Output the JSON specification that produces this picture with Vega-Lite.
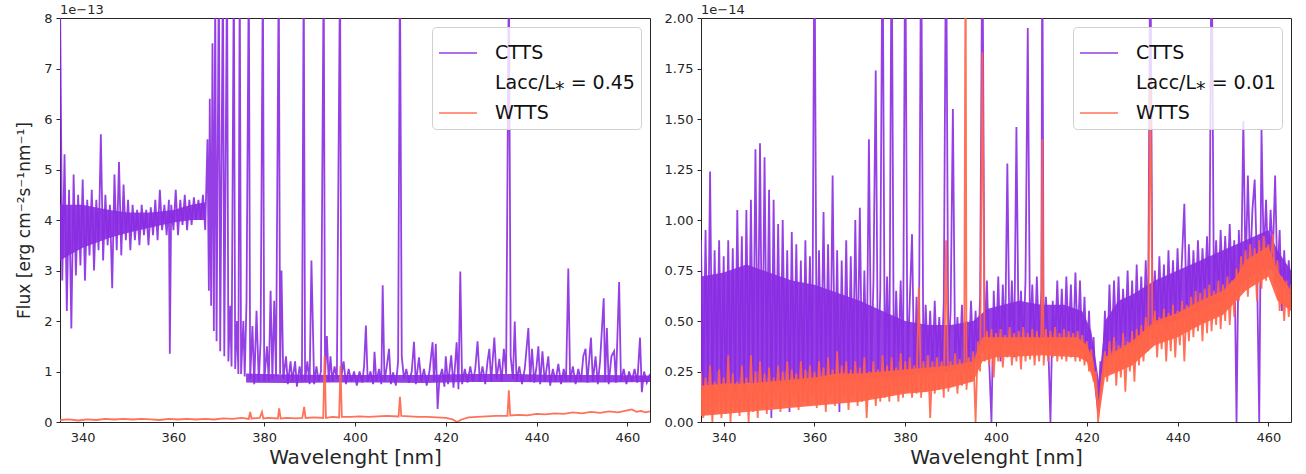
{
"$schema": "https://vega.github.io/schema/vega-lite/v6.json",
"padding": {"left": 15, "top": 3, "right": 10, "bottom": 2},
"background": "white",
"config": {
 "font": "DejaVu Sans",
 "view": {"stroke": "#262626", "strokeWidth": 1},
 "axis": {"domain": false, "grid": false, "tickColor": "#262626", "tickSize": 4, "labelFont": "DejaVu Sans", "labelFontSize": 13, "labelColor": "#262626", "labelPadding": 4, "labelFlush": false, "titleFont": "DejaVu Sans", "titleFontWeight": "normal", "titleColor": "#262626"},
 "title": {"font": "DejaVu Sans", "fontSize": 13, "fontWeight": "normal", "color": "#262626", "anchor": "start", "offset": -5, "frame": "group"},
 "legend": {"orient": "top-right", "offset": 9, "fillColor": "rgba(255,255,255,0.8)", "strokeColor": "#d0d0d0", "cornerRadius": 4, "padding": 6, "symbolType": "stroke", "symbolSize": 1444, "symbolStrokeWidth": 1.5, "labelFont": "DejaVu Sans", "labelFontSize": 19, "labelColor": "#111111", "rowPadding": 0, "labelOffset": 17, "titleFontSize": 0}
},
"datasets": {
"lca": [{"w":335,"lo":3.2,"hi":4.3},{"w":337,"lo":3.3,"hi":4.3},{"w":340,"lo":3.45,"hi":4.3},{"w":343,"lo":3.55,"hi":4.25},{"w":346,"lo":3.65,"hi":4.2},{"w":350,"lo":3.75,"hi":4.15},{"w":355,"lo":3.85,"hi":4.15},{"w":360,"lo":3.95,"hi":4.2},{"w":364,"lo":4.0,"hi":4.3},{"w":367,"lo":4.0,"hi":4.35}],
"lcb": [{"w":376,"lo":0.78,"hi":0.96},{"w":385,"lo":0.77,"hi":0.94},{"w":395,"lo":0.78,"hi":0.93},{"w":405,"lo":0.78,"hi":0.93},{"w":415,"lo":0.77,"hi":0.93},{"w":425,"lo":0.79,"hi":0.95},{"w":435,"lo":0.79,"hi":0.95},{"w":445,"lo":0.78,"hi":0.93},{"w":455,"lo":0.78,"hi":0.93},{"w":465,"lo":0.79,"hi":0.92}],
"rca": [{"w":335,"lo":0.18,"hi":0.72},{"w":340,"lo":0.18,"hi":0.74},{"w":345,"lo":0.19,"hi":0.78},{"w":350,"lo":0.19,"hi":0.74},{"w":355,"lo":0.2,"hi":0.7},{"w":360,"lo":0.2,"hi":0.68},{"w":365,"lo":0.21,"hi":0.64},{"w":370,"lo":0.21,"hi":0.6},{"w":375,"lo":0.22,"hi":0.55},{"w":380,"lo":0.23,"hi":0.5},{"w":385,"lo":0.24,"hi":0.48},{"w":390,"lo":0.25,"hi":0.48},{"w":395,"lo":0.28,"hi":0.5},{"w":398,"lo":0.38,"hi":0.56},{"w":405,"lo":0.38,"hi":0.6},{"w":410,"lo":0.38,"hi":0.58},{"w":415,"lo":0.38,"hi":0.58},{"w":419,"lo":0.36,"hi":0.55},{"w":421,"lo":0.28,"hi":0.45},{"w":422.7,"lo":0.08,"hi":0.2},{"w":424,"lo":0.3,"hi":0.5},{"w":427,"lo":0.35,"hi":0.6},{"w":430,"lo":0.38,"hi":0.63},{"w":435,"lo":0.48,"hi":0.7},{"w":440,"lo":0.5,"hi":0.75},{"w":445,"lo":0.56,"hi":0.8},{"w":450,"lo":0.6,"hi":0.85},{"w":455,"lo":0.7,"hi":0.9},{"w":460,"lo":0.78,"hi":0.95},{"w":462,"lo":0.7,"hi":0.85},{"w":465,"lo":0.62,"hi":0.75}],
"rwa": [{"w":335,"lo":0.03,"hi":0.18},{"w":340,"lo":0.04,"hi":0.19},{"w":345,"lo":0.05,"hi":0.19},{"w":350,"lo":0.06,"hi":0.2},{"w":355,"lo":0.07,"hi":0.21},{"w":360,"lo":0.08,"hi":0.22},{"w":365,"lo":0.09,"hi":0.24},{"w":370,"lo":0.1,"hi":0.24},{"w":375,"lo":0.12,"hi":0.25},{"w":380,"lo":0.14,"hi":0.26},{"w":385,"lo":0.15,"hi":0.27},{"w":390,"lo":0.17,"hi":0.28},{"w":395,"lo":0.2,"hi":0.3},{"w":397,"lo":0.3,"hi":0.42},{"w":400,"lo":0.32,"hi":0.42},{"w":410,"lo":0.33,"hi":0.42},{"w":418,"lo":0.32,"hi":0.42},{"w":420,"lo":0.3,"hi":0.38},{"w":421.5,"lo":0.2,"hi":0.3},{"w":422.7,"lo":0.02,"hi":0.1},{"w":424,"lo":0.22,"hi":0.32},{"w":427,"lo":0.25,"hi":0.36},{"w":430,"lo":0.28,"hi":0.4},{"w":435,"lo":0.38,"hi":0.5},{"w":440,"lo":0.42,"hi":0.54},{"w":445,"lo":0.48,"hi":0.6},{"w":450,"lo":0.53,"hi":0.65},{"w":453,"lo":0.6,"hi":0.72},{"w":455,"lo":0.65,"hi":0.8},{"w":460,"lo":0.72,"hi":0.87},{"w":462,"lo":0.6,"hi":0.75},{"w":465,"lo":0.55,"hi":0.65}],
"lc": [
{"w":335,"f":8.5},{"w":335.5,"f":2.8},{"w":336,"f":5.3},{"w":336.5,"f":2.2},{"w":337,"f":4.6},{"w":337.5,"f":1.85},{"w":338,"f":4.9},{"w":338.5,"f":2.9},{"w":339,"f":4.5},{"w":339.5,"f":3.1},{"w":340,"f":4.8},{"w":340.5,"f":2.8},{"w":341,"f":4.4},{"w":341.5,"f":3.3},{"w":342,"f":4.6},{"w":342.5,"f":3.0},{"w":343,"f":4.4},{"w":343.5,"f":3.4},{"w":344,"f":5.7},{"w":344.5,"f":3.2},{"w":345,"f":4.5},{"w":345.5,"f":3.5},{"w":346,"f":4.3},{"w":346.5,"f":2.65},{"w":347,"f":4.9},{"w":347.5,"f":3.4},{"w":348,"f":5.15},{"w":348.5,"f":3.3},{"w":349,"f":4.7},{"w":349.5,"f":3.6},{"w":350,"f":4.4},{"w":350.5,"f":3.4},{"w":351,"f":4.3},{"w":351.5,"f":3.6},{"w":352,"f":4.2},{"w":352.5,"f":3.5},{"w":353,"f":4.3},{"w":353.5,"f":3.7},{"w":354,"f":4.2},{"w":354.5,"f":3.5},{"w":355,"f":4.25},{"w":355.5,"f":3.7},{"w":356,"f":4.4},{"w":356.5,"f":3.6},{"w":357,"f":4.6},{"w":357.5,"f":3.8},{"w":358,"f":4.3},{"w":358.5,"f":3.7},{"w":359,"f":4.4},{"w":359.2,"f":1.35},{"w":359.5,"f":4.3},{"w":360,"f":3.8},{"w":360.5,"f":4.6},{"w":361,"f":3.7},{"w":361.5,"f":4.4},{"w":362,"f":3.9},{"w":362.5,"f":4.5},{"w":363,"f":3.8},{"w":363.5,"f":4.4},{"w":364,"f":3.9},{"w":364.5,"f":4.45},{"w":365,"f":4.0},{"w":365.5,"f":4.4},{"w":366,"f":4.0},{"w":366.5,"f":4.5},{"w":367,"f":3.8},{"w":367.5,"f":5.6},{"w":367.8,"f":2.6},{"w":368,"f":6.4},{"w":368.3,"f":2.3},{"w":368.6,"f":7.5},{"w":368.9,"f":1.8},{"w":369.2,"f":8.5},{"w":369.5,"f":1.6},{"w":370,"f":9},{"w":370.3,"f":1.4},{"w":370.9,"f":9},{"w":371.2,"f":1.3},{"w":371.8,"f":9},{"w":372.1,"f":1.2},{"w":372.5,"f":2.3},{"w":372.8,"f":1.1},{"w":373.3,"f":9},{"w":373.6,"f":1.05},{"w":374,"f":2.0},{"w":374.3,"f":0.95},{"w":374.6,"f":9},{"w":374.9,"f":0.95},{"w":375.4,"f":2.0},{"w":375.7,"f":0.9},{"w":376.1,"f":2.4},{"w":376.6,"f":9},{"w":376.9,"f":0.85},{"w":377.4,"f":1.9},{"w":377.8,"f":0.75},{"w":378.3,"f":2.2},{"w":378.8,"f":0.8},{"w":379.2,"f":1.6},{"w":379.7,"f":9},{"w":380,"f":0.8},{"w":380.6,"f":1.5},{"w":381,"f":0.8},{"w":381.4,"f":2.6},{"w":381.8,"f":0.85},{"w":382.2,"f":2.4},{"w":382.6,"f":0.9},{"w":383.2,"f":9},{"w":383.5,"f":0.95},{"w":383.8,"f":3.0},{"w":384.2,"f":0.85},{"w":384.8,"f":1.3},{"w":385.2,"f":0.75},{"w":385.8,"f":1.2},{"w":386.2,"f":0.8},{"w":386.8,"f":1.2},{"w":387.2,"f":0.7},{"w":387.8,"f":1.1},{"w":388.3,"f":0.8},{"w":388.7,"f":9},{"w":389,"f":0.8},{"w":389.5,"f":1.2},{"w":390,"f":0.75},{"w":390.4,"f":3.2},{"w":391,"f":0.75},{"w":391.5,"f":1.1},{"w":392,"f":0.8},{"w":392.5,"f":1.0},{"w":393.1,"f":9},{"w":393.4,"f":0.9},{"w":393.8,"f":1.7},{"w":394.2,"f":0.8},{"w":394.6,"f":1.3},{"w":395,"f":0.8},{"w":395.5,"f":1.1},{"w":396,"f":0.85},{"w":396.7,"f":9},{"w":397,"f":0.9},{"w":397.5,"f":1.2},
{"w":398,"f":0.75},{"w":398.6,"f":1.05},{"w":399.2,"f":0.8},{"w":399.8,"f":1.0},{"w":400.4,"f":0.72},{"w":401,"f":1.0},{"w":401.6,"f":0.78},{"w":402,"f":1.1},{"w":402.4,"f":1.91},{"w":402.8,"f":0.8},{"w":403.4,"f":1.0},{"w":404,"f":0.75},{"w":404.3,"f":1.39},{"w":404.7,"f":0.8},{"w":405.3,"f":1.05},{"w":405.8,"f":0.75},{"w":406.1,"f":2.71},{"w":406.5,"f":0.8},{"w":407,"f":1.1},{"w":407.5,"f":1.45},{"w":407.9,"f":0.75},{"w":408.4,"f":0.98},{"w":409,"f":0.72},{"w":409.5,"f":1.2},{"w":409.9,"f":9},{"w":410.3,"f":1.3},{"w":410.8,"f":0.85},{"w":411.3,"f":1.05},{"w":411.9,"f":0.78},{"w":412.5,"f":1.0},{"w":413,"f":1.59},{"w":413.4,"f":0.75},{"w":414.1,"f":1.28},{"w":414.6,"f":0.8},{"w":415.2,"f":1.05},{"w":415.8,"f":0.72},{"w":416.4,"f":1.0},{"w":417.1,"f":1.58},{"w":417.4,"f":0.8},{"w":417.8,"f":1.55},{"w":418.2,"f":0.26},{"w":418.6,"f":0.85},{"w":419.2,"f":1.05},{"w":419.7,"f":0.7},{"w":420,"f":1.3},{"w":420.5,"f":0.75},{"w":421.2,"f":1.32},{"w":421.7,"f":0.68},{"w":422.4,"f":1.58},{"w":422.8,"f":0.65},{"w":423.2,"f":2.98},{"w":423.6,"f":0.75},{"w":424.2,"f":1.05},{"w":424.8,"f":0.78},{"w":425.4,"f":1.1},{"w":426,"f":0.8},{"w":426.5,"f":1.05},{"w":427,"f":1.6},{"w":427.5,"f":0.8},{"w":428.1,"f":1.1},{"w":428.7,"f":0.75},{"w":429.2,"f":1.2},{"w":429.6,"f":1.45},{"w":430,"f":0.8},{"w":430.7,"f":1.67},{"w":431.2,"f":0.85},{"w":431.8,"f":1.25},{"w":432.3,"f":0.8},{"w":432.8,"f":1.45},{"w":433.3,"f":0.95},{"w":433.9,"f":9},{"w":434.3,"f":1.3},{"w":434.8,"f":0.85},{"w":435.2,"f":1.99},{"w":435.6,"f":0.8},{"w":436.2,"f":1.1},{"w":436.8,"f":0.75},{"w":437.4,"f":1.05},{"w":438.2,"f":1.86},{"w":438.6,"f":0.8},{"w":439,"f":1.45},{"w":439.5,"f":0.78},{"w":440,"f":1.1},{"w":440.4,"f":1.5},{"w":440.8,"f":0.75},{"w":441.3,"f":1.4},{"w":441.8,"f":0.8},{"w":442.6,"f":1.3},{"w":443,"f":0.72},{"w":443.6,"f":1.05},{"w":444.2,"f":0.8},{"w":444.8,"f":1.15},{"w":445.4,"f":0.75},{"w":446,"f":1.05},{"w":446.5,"f":0.8},{"w":447,"f":3.04},{"w":447.4,"f":0.8},{"w":448,"f":1.1},{"w":448.6,"f":0.75},{"w":449.2,"f":1.05},{"w":449.8,"f":0.8},{"w":450.3,"f":1.3},{"w":450.8,"f":1.45},{"w":451.2,"f":0.78},{"w":452,"f":1.67},{"w":452.4,"f":0.8},{"w":453,"f":1.3},{"w":453.5,"f":0.75},{"w":454,"f":1.2},{"w":454.8,"f":2.45},{"w":455.1,"f":0.8},{"w":455.5,"f":1.86},{"w":455.9,"f":0.75},{"w":456.5,"f":1.3},{"w":457.1,"f":1.4},{"w":457.5,"f":0.78},{"w":458.2,"f":2.77},{"w":458.6,"f":0.8},{"w":459.2,"f":1.05},{"w":459.8,"f":0.75},{"w":460.4,"f":1.0},{"w":461,"f":0.8},{"w":461.6,"f":1.05},{"w":462.2,"f":0.78},{"w":462.8,"f":1.67},{"w":463.2,"f":0.59},{"w":463.7,"f":1.0},{"w":464.3,"f":0.78},{"w":465,"f":0.95}
],
"lw": [
{"w":335,"f":0.04},{"w":337,"f":0.05},{"w":339,"f":0.03},{"w":341,"f":0.05},{"w":343,"f":0.04},{"w":345,"f":0.06},{"w":347,"f":0.05},{"w":349,"f":0.06},{"w":351,"f":0.05},{"w":353,"f":0.06},{"w":355,"f":0.05},{"w":357,"f":0.04},{"w":359,"f":0.06},{"w":361,"f":0.05},{"w":363,"f":0.06},{"w":365,"f":0.05},{"w":367,"f":0.06},{"w":369,"f":0.05},{"w":371,"f":0.07},{"w":373,"f":0.06},{"w":375,"f":0.08},{"w":376.6,"f":0.06},{"w":376.9,"f":0.2},{"w":377.2,"f":0.07},{"w":379,"f":0.08},{"w":379.5,"f":0.2},{"w":379.8,"f":0.07},{"w":381,"f":0.08},{"w":383,"f":0.07},{"w":383.3,"f":0.27},{"w":383.6,"f":0.07},{"w":385,"f":0.08},{"w":387,"f":0.07},{"w":388.4,"f":0.08},{"w":388.8,"f":0.3},{"w":389.1,"f":0.08},{"w":391,"f":0.09},{"w":393,"f":0.08},{"w":393.3,"f":1.31},{"w":393.6,"f":0.08},{"w":395,"f":0.1},{"w":396.5,"f":0.09},{"w":396.8,"f":1.11},{"w":397.1,"f":0.1},{"w":399,"f":0.1},{"w":401,"f":0.11},{"w":403,"f":0.1},{"w":405,"f":0.11},{"w":407,"f":0.12},{"w":409.6,"f":0.11},{"w":409.9,"f":0.5},{"w":410.2,"f":0.12},{"w":412,"f":0.11},{"w":414,"f":0.1},{"w":416,"f":0.1},{"w":418,"f":0.09},{"w":420,"f":0.08},{"w":421.5,"f":0.05},{"w":422.5,"f":0.0},{"w":423.5,"f":0.05},{"w":425,"f":0.09},{"w":427,"f":0.1},{"w":429,"f":0.11},{"w":431,"f":0.12},{"w":433.6,"f":0.12},{"w":433.9,"f":0.63},{"w":434.2,"f":0.13},{"w":436,"f":0.14},{"w":438,"f":0.13},{"w":440,"f":0.16},{"w":442,"f":0.15},{"w":444,"f":0.17},{"w":446,"f":0.16},{"w":448,"f":0.19},{"w":450,"f":0.17},{"w":452,"f":0.2},{"w":454,"f":0.18},{"w":456,"f":0.21},{"w":458,"f":0.19},{"w":460,"f":0.23},{"w":461,"f":0.25},{"w":462,"f":0.2},{"w":463,"f":0.22},{"w":464,"f":0.19},{"w":465,"f":0.21}
],
"rc": [
{"w":335,"f":0.9},{"w":335.5,"f":0.12},{"w":336,"f":0.95},{"w":336.5,"f":0.2},{"w":337,"f":1.24},{"w":337.5,"f":0.1},{"w":338,"f":0.85},{"w":338.5,"f":0.25},{"w":339,"f":0.9},{"w":339.5,"f":0.15},{"w":340,"f":0.82},{"w":340.5,"f":0.05},{"w":341,"f":0.9},{"w":341.5,"f":0.2},{"w":342,"f":0.86},{"w":342.5,"f":0.15},{"w":343,"f":1.05},{"w":343.5,"f":0.22},{"w":344,"f":0.92},{"w":344.5,"f":0.12},{"w":345,"f":1.05},{"w":345.5,"f":0.2},{"w":346,"f":1.1},{"w":346.5,"f":0.18},{"w":347,"f":1.35},{"w":347.5,"f":0.25},{"w":348,"f":1.38},{"w":348.5,"f":0.15},{"w":349,"f":1.31},{"w":349.5,"f":0.22},{"w":350,"f":1.15},{"w":350.5,"f":0.02},{"w":351,"f":1.1},{"w":351.5,"f":0.2},{"w":352,"f":0.98},{"w":352.5,"f":0.18},{"w":353,"f":1.0},{"w":353.5,"f":0.25},{"w":354,"f":0.85},{"w":354.5,"f":0.05},{"w":355,"f":0.94},{"w":355.5,"f":0.22},{"w":356,"f":0.88},{"w":356.5,"f":0.2},{"w":357,"f":0.8},{"w":357.5,"f":0.15},{"w":358,"f":0.9},{"w":358.5,"f":0.25},{"w":359,"f":0.82},{"w":359.5,"f":0.2},{"w":360,"f":2.5},{"w":360.5,"f":0.18},{"w":361,"f":0.85},{"w":361.5,"f":0.25},{"w":362,"f":1.04},{"w":362.5,"f":0.2},{"w":363,"f":0.88},{"w":363.5,"f":0.22},{"w":364,"f":1.22},{"w":364.5,"f":0.18},{"w":365,"f":0.85},{"w":365.5,"f":0.05},{"w":366,"f":0.8},{"w":366.5,"f":0.25},{"w":367,"f":0.9},{"w":367.5,"f":0.2},{"w":368,"f":0.82},{"w":368.5,"f":0.22},{"w":369,"f":1.0},{"w":369.5,"f":0.25},{"w":370,"f":1.06},{"w":370.5,"f":0.2},{"w":371,"f":0.75},{"w":371.5,"f":0.22},{"w":372,"f":1.4},{"w":372.5,"f":0.25},{"w":373,"f":0.7},{"w":373.5,"f":1.74},{"w":374,"f":0.2},{"w":374.5,"f":0.65},{"w":375,"f":2.5},{"w":375.5,"f":0.22},{"w":376,"f":0.72},{"w":376.5,"f":0.25},{"w":377,"f":2.5},{"w":377.5,"f":0.2},{"w":378,"f":0.65},{"w":378.5,"f":0.3},{"w":379,"f":0.7},{"w":379.5,"f":0.22},{"w":380,"f":2.5},{"w":380.5,"f":0.25},{"w":381,"f":0.6},{"w":381.5,"f":0.93},{"w":382,"f":0.2},{"w":382.5,"f":0.62},{"w":383,"f":0.28},{"w":383.5,"f":2.5},{"w":384,"f":0.25},{"w":384.5,"f":0.58},{"w":385,"f":0.3},{"w":385.5,"f":0.55},{"w":386,"f":0.25},{"w":386.5,"f":0.6},{"w":387,"f":0.3},{"w":387.5,"f":0.52},{"w":388,"f":0.25},{"w":388.5,"f":0.6},{"w":389,"f":2.5},{"w":389.5,"f":0.3},{"w":390,"f":0.55},{"w":390.5,"f":1.55},{"w":391,"f":0.28},{"w":391.5,"f":0.52},{"w":392,"f":0.3},{"w":392.5,"f":0.58},{"w":393,"f":0.25},{"w":393.5,"f":0.5},{"w":394,"f":0.3},{"w":394.5,"f":0.6},{"w":395,"f":0.28},{"w":395.5,"f":0.55},{"w":396,"f":0.3},{"w":396.5,"f":0.62},{"w":397,"f":2.5},{"w":397.5,"f":0.35},{"w":398,"f":0.7},{"w":398.5,"f":0.3},{"w":399,"f":0.0},{"w":399.5,"f":0.65},{"w":400,"f":0.35},{"w":400.5,"f":0.72},{"w":401,"f":0.3},{"w":401.5,"f":0.68},{"w":402,"f":0.38},{"w":402.5,"f":1.28},{"w":403,"f":0.35},{"w":403.5,"f":0.7},{"w":404,"f":0.32},{"w":404.5,"f":1.46},{"w":405,"f":0.38},{"w":405.5,"f":0.65},{"w":406,"f":0.35},{"w":406.5,"f":0.7},{"w":407,"f":1.95},{"w":407.5,"f":0.4},{"w":408,"f":0.68},{"w":408.5,"f":0.35},{"w":409,"f":0.72},{"w":409.5,"f":0.38},{"w":410,"f":0.65},{"w":410.2,"f":2.5},{"w":410.5,"f":0.35},{"w":411,"f":0.62},{"w":411.5,"f":0.4},{"w":412,"f":0.0},{"w":412.5,"f":0.6},{"w":413,"f":0.35},{"w":413.5,"f":0.7},{"w":414,"f":0.38},{"w":414.5,"f":0.66},{"w":415,"f":0.35},{"w":415.5,"f":0.72},{"w":416,"f":0.4},{"w":416.5,"f":0.68},{"w":417,"f":0.36},{"w":417.5,"f":0.74},{"w":418,"f":0.38},{"w":418.5,"f":0.7},{"w":419,"f":0.36},{"w":419.5,"f":0.62},{"w":420,"f":0.3},{"w":420.5,"f":0.55},{"w":421,"f":0.25},{"w":421.5,"f":0.42},{"w":422,"f":0.15},{"w":422.5,"f":0.05},{"w":423,"f":0.3},{"w":423.5,"f":0.22},{"w":424,"f":0.55},{"w":424.5,"f":0.3},{"w":425,"f":0.68},{"w":425.5,"f":0.35},{"w":426,"f":0.7},{"w":426.5,"f":0.4},{"w":427,"f":0.72},{"w":427.5,"f":0.38},{"w":428,"f":0.66},{"w":428.5,"f":0.42},{"w":429,"f":0.75},{"w":429.5,"f":0.4},{"w":430,"f":0.7},{"w":430.5,"f":0.38},{"w":431,"f":0.78},{"w":431.5,"f":0.42},{"w":432,"f":0.72},{"w":432.5,"f":0.45},{"w":433,"f":0.8},{"w":433.5,"f":0.42},{"w":434,"f":2.5},{"w":434.5,"f":0.45},{"w":435,"f":0.75},{"w":435.5,"f":0.48},{"w":436,"f":0.82},{"w":436.5,"f":0.5},{"w":437,"f":0.78},{"w":437.5,"f":0.45},{"w":438,"f":0.85},{"w":438.5,"f":0.52},{"w":439,"f":0.8},{"w":439.5,"f":0.5},{"w":440,"f":0.86},{"w":440.5,"f":0.55},{"w":441,"f":0.82},{"w":441.5,"f":1.08},{"w":442,"f":0.52},{"w":442.5,"f":0.88},{"w":443,"f":0.55},{"w":443.5,"f":0.85},{"w":444,"f":0.58},{"w":444.5,"f":0.9},{"w":445,"f":0.6},{"w":445.5,"f":0.86},{"w":446,"f":0.62},{"w":446.5,"f":0.92},{"w":447,"f":0.6},{"w":447.5,"f":2.5},{"w":448,"f":0.65},{"w":448.5,"f":0.9},{"w":449,"f":0.62},{"w":449.5,"f":0.95},{"w":450,"f":0.65},{"w":450.5,"f":0.92},{"w":451,"f":0.68},{"w":451.5,"f":0.98},{"w":452,"f":0.65},{"w":452.5,"f":0.9},{"w":453,"f":0.0},{"w":453.5,"f":0.95},{"w":454,"f":0.7},{"w":454.5,"f":1.49},{"w":455,"f":0.72},{"w":455.5,"f":1.22},{"w":456,"f":0.75},{"w":456.5,"f":1.05},{"w":457,"f":1.2},{"w":457.5,"f":0.78},{"w":458,"f":0.0},{"w":458.5,"f":1.45},{"w":459,"f":0.8},{"w":459.5,"f":1.1},{"w":460,"f":0.75},{"w":460.5,"f":1.05},{"w":461,"f":0.82},{"w":461.5,"f":1.22},{"w":462,"f":0.7},{"w":462.5,"f":0.95},{"w":463,"f":0.55},{"w":463.5,"f":0.85},{"w":464,"f":0.6},{"w":464.5,"f":0.8},{"w":465,"f":0.65}
],
"rw": [
{"w":335,"f":0.25},{"w":335.5,"f":0.02},{"w":336,"f":0.22},{"w":336.5,"f":0.05},{"w":337,"f":0.28},{"w":337.5,"f":0.0},{"w":338,"f":0.2},{"w":338.5,"f":0.06},{"w":339,"f":0.26},{"w":339.5,"f":0.02},{"w":340,"f":0.22},{"w":340.5,"f":0.04},{"w":341,"f":0.33},{"w":341.5,"f":0.0},{"w":342,"f":0.24},{"w":342.5,"f":0.05},{"w":343,"f":0.2},{"w":343.5,"f":0.03},{"w":344,"f":0.28},{"w":344.5,"f":0.06},{"w":345,"f":0.22},{"w":345.5,"f":0.0},{"w":346,"f":0.33},{"w":346.5,"f":0.05},{"w":347,"f":0.25},{"w":347.5,"f":0.02},{"w":348,"f":0.3},{"w":348.5,"f":0.07},{"w":349,"f":0.24},{"w":349.5,"f":0.04},{"w":350,"f":0.27},{"w":350.5,"f":0.08},{"w":351,"f":0.22},{"w":351.5,"f":0.1},{"w":352,"f":0.28},{"w":352.5,"f":0.05},{"w":353,"f":0.25},{"w":353.5,"f":0.1},{"w":354,"f":0.3},{"w":354.5,"f":0.08},{"w":355,"f":0.26},{"w":355.5,"f":0.12},{"w":356,"f":0.24},{"w":356.5,"f":0.06},{"w":357,"f":0.3},{"w":357.5,"f":0.1},{"w":358,"f":0.26},{"w":358.5,"f":0.08},{"w":359,"f":0.28},{"w":359.5,"f":0.12},{"w":360,"f":0.25},{"w":360.5,"f":0.07},{"w":361,"f":0.3},{"w":361.5,"f":0.1},{"w":362,"f":0.27},{"w":362.5,"f":0.05},{"w":363,"f":0.32},{"w":363.5,"f":0.12},{"w":364,"f":0.26},{"w":364.5,"f":0.08},{"w":365,"f":0.35},{"w":365.5,"f":0.1},{"w":366,"f":0.28},{"w":366.5,"f":0.12},{"w":367,"f":0.3},{"w":367.5,"f":0.06},{"w":368,"f":0.26},{"w":368.5,"f":0.12},{"w":369,"f":0.3},{"w":369.5,"f":0.08},{"w":370,"f":0.27},{"w":370.5,"f":0.1},{"w":371,"f":0.32},{"w":371.5,"f":0.02},{"w":372,"f":0.25},{"w":372.5,"f":0.12},{"w":373,"f":0.3},{"w":373.5,"f":0.08},{"w":374,"f":0.26},{"w":374.5,"f":0.1},{"w":375,"f":0.33},{"w":375.5,"f":0.12},{"w":376,"f":0.28},{"w":376.5,"f":0.1},{"w":377,"f":0.32},{"w":377.5,"f":0.14},{"w":378,"f":0.27},{"w":378.5,"f":0.1},{"w":379,"f":0.34},{"w":379.5,"f":0.12},{"w":380,"f":0.3},{"w":380.5,"f":0.15},{"w":381,"f":0.32},{"w":381.5,"f":0.12},{"w":382,"f":0.28},{"w":382.5,"f":0.14},{"w":383,"f":0.67},{"w":383.5,"f":0.12},{"w":384,"f":0.3},{"w":384.5,"f":0.15},{"w":385,"f":0.33},{"w":385.5,"f":0.02},{"w":386,"f":0.3},{"w":386.5,"f":0.14},{"w":387,"f":0.32},{"w":387.5,"f":0.16},{"w":388,"f":0.3},{"w":388.5,"f":0.12},{"w":389,"f":0.9},{"w":389.5,"f":0.15},{"w":390,"f":0.3},{"w":390.5,"f":0.18},{"w":391,"f":0.34},{"w":391.5,"f":0.14},{"w":392,"f":0.31},{"w":392.5,"f":0.18},{"w":393,"f":0.3},{"w":393.3,"f":2.5},{"w":393.5,"f":0.16},{"w":394,"f":0.32},{"w":394.5,"f":0.2},{"w":395,"f":0.35},{"w":395.5,"f":0.0},{"w":396,"f":0.4},{"w":396.5,"f":0.25},{"w":397,"f":1.83},{"w":397.5,"f":0.3},{"w":398,"f":0.45},{"w":398.5,"f":0.28},{"w":399,"f":0.46},{"w":399.5,"f":0.22},{"w":400,"f":0.44},{"w":400.5,"f":0.3},{"w":401,"f":0.46},{"w":401.5,"f":0.27},{"w":402,"f":0.43},{"w":402.5,"f":0.32},{"w":403,"f":0.47},{"w":403.5,"f":0.28},{"w":404,"f":0.44},{"w":404.5,"f":0.3},{"w":405,"f":0.45},{"w":405.5,"f":0.26},{"w":406,"f":0.47},{"w":406.5,"f":0.3},{"w":407,"f":0.44},{"w":407.5,"f":0.31},{"w":408,"f":0.46},{"w":408.5,"f":0.28},{"w":409,"f":0.45},{"w":409.5,"f":0.3},{"w":410,"f":0.44},{"w":410.2,"f":1.4},{"w":410.5,"f":0.28},{"w":411,"f":0.46},{"w":411.5,"f":0.3},{"w":412,"f":0.45},{"w":412.5,"f":0.32},{"w":413,"f":0.47},{"w":413.5,"f":0.3},{"w":414,"f":0.44},{"w":414.5,"f":0.31},{"w":415,"f":0.46},{"w":415.5,"f":0.3},{"w":416,"f":0.45},{"w":416.5,"f":0.32},{"w":417,"f":0.44},{"w":417.5,"f":0.3},{"w":418,"f":0.45},{"w":418.5,"f":0.3},{"w":419,"f":0.43},{"w":419.5,"f":0.28},{"w":420,"f":0.4},{"w":420.5,"f":0.25},{"w":421,"f":0.36},{"w":421.5,"f":0.2},{"w":422,"f":0.25},{"w":422.5,"f":0.0},{"w":423,"f":0.15},{"w":423.5,"f":0.25},{"w":424,"f":0.35},{"w":424.5,"f":0.2},{"w":425,"f":0.4},{"w":425.5,"f":0.25},{"w":426,"f":0.42},{"w":426.5,"f":0.18},{"w":427,"f":0.38},{"w":427.5,"f":0.22},{"w":428,"f":0.44},{"w":428.5,"f":0.15},{"w":429,"f":0.4},{"w":429.5,"f":0.25},{"w":430,"f":0.45},{"w":430.5,"f":0.2},{"w":431,"f":0.46},{"w":431.5,"f":0.28},{"w":432,"f":0.48},{"w":432.5,"f":0.3},{"w":433,"f":0.52},{"w":433.5,"f":0.35},{"w":434,"f":1.7},{"w":434.5,"f":0.38},{"w":435,"f":0.55},{"w":435.5,"f":0.32},{"w":436,"f":0.52},{"w":436.5,"f":0.36},{"w":437,"f":0.56},{"w":437.5,"f":0.3},{"w":438,"f":0.54},{"w":438.5,"f":0.35},{"w":439,"f":0.58},{"w":439.5,"f":0.32},{"w":440,"f":0.55},{"w":440.5,"f":0.38},{"w":441,"f":0.6},{"w":441.5,"f":0.3},{"w":442,"f":0.58},{"w":442.5,"f":0.4},{"w":443,"f":0.62},{"w":443.5,"f":0.42},{"w":444,"f":0.65},{"w":444.5,"f":0.45},{"w":445,"f":0.64},{"w":445.5,"f":0.4},{"w":446,"f":0.66},{"w":446.5,"f":0.44},{"w":447,"f":0.68},{"w":447.5,"f":0.45},{"w":448,"f":0.65},{"w":448.5,"f":0.48},{"w":449,"f":0.7},{"w":449.5,"f":0.46},{"w":450,"f":0.68},{"w":450.5,"f":0.5},{"w":451,"f":0.72},{"w":451.5,"f":0.48},{"w":452,"f":0.7},{"w":452.5,"f":0.52},{"w":453,"f":0.76},{"w":453.5,"f":0.6},{"w":454,"f":0.82},{"w":454.5,"f":0.65},{"w":455,"f":0.85},{"w":455.5,"f":0.62},{"w":456,"f":0.88},{"w":456.5,"f":0.68},{"w":457,"f":0.86},{"w":457.5,"f":0.6},{"w":458,"f":0.9},{"w":458.5,"f":0.66},{"w":459,"f":0.92},{"w":459.5,"f":0.7},{"w":460,"f":0.88},{"w":460.5,"f":0.75},{"w":461,"f":0.93},{"w":461.5,"f":0.68},{"w":462,"f":0.8},{"w":462.5,"f":0.55},{"w":463,"f":0.72},{"w":463.5,"f":0.5},{"w":464,"f":0.7},{"w":464.5,"f":0.52},{"w":465,"f":0.68}
]
},
"spacing": 12,
"resolve": {"scale": {"color": "independent"}, "legend": {"color": "independent"}},
"hconcat": [
{
 "width": 590, "height": 404,
 "title": {"text": "1e−13"},
 "encoding": {
  "x": {"field": "w", "type": "quantitative", "scale": {"domain": [335, 465], "nice": false, "zero": false}, "axis": {"values": [340, 360, 380, 400, 420, 440, 460], "labelPadding": 5, "titleFontSize": 20, "titlePadding": 3}, "title": "Wavelenght [nm]"}
 },
 "layer": [
  {"data": {"name": "lca"}, "mark": {"type": "area", "clip": true, "color": "#8a2be2", "opacity": 0.9},
   "encoding": {"y": {"field": "lo", "type": "quantitative", "scale": {"domain": [0, 8], "nice": false}, "axis": {"values": [0, 1, 2, 3, 4, 5, 6, 7, 8], "format": "d", "titleFontSize": 17, "titlePadding": 10}, "title": "Flux [erg cm⁻²s⁻¹nm⁻¹]"}, "y2": {"field": "hi"}}},
  {"data": {"name": "lcb"}, "mark": {"type": "area", "clip": true, "color": "#8a2be2", "opacity": 0.9},
   "encoding": {"y": {"field": "lo", "type": "quantitative", "title": "Flux [erg cm⁻²s⁻¹nm⁻¹]"}, "y2": {"field": "hi"}}},
  {"data": {"name": "lc"}, "mark": {"type": "line", "clip": true, "strokeWidth": 1.8, "opacity": 0.9},
   "encoding": {"y": {"field": "f", "type": "quantitative", "title": "Flux [erg cm⁻²s⁻¹nm⁻¹]"}, "color": {"datum": "CTTS", "type": "nominal", "scale": {"domain": ["CTTS", "Lacc/L⁎ = 0.45", "WTTS"], "range": ["#8a2be2", "rgba(0,0,0,0)", "#ff6347"]}, "legend": {"title": null}}}},
  {"data": {"name": "lw"}, "mark": {"type": "line", "clip": true, "strokeWidth": 1.8, "opacity": 0.9},
   "encoding": {"y": {"field": "f", "type": "quantitative", "title": "Flux [erg cm⁻²s⁻¹nm⁻¹]"}, "color": {"datum": "WTTS", "type": "nominal"}}}
 ]
},
{
 "width": 590, "height": 404,
 "title": {"text": "1e−14"},
 "encoding": {
  "x": {"field": "w", "type": "quantitative", "scale": {"domain": [335, 465], "nice": false, "zero": false}, "axis": {"values": [340, 360, 380, 400, 420, 440, 460], "labelPadding": 5, "titleFontSize": 20, "titlePadding": 3}, "title": "Wavelenght [nm]"}
 },
 "layer": [
  {"data": {"name": "rca"}, "mark": {"type": "area", "clip": true, "color": "#8a2be2", "opacity": 0.9},
   "encoding": {"y": {"field": "lo", "type": "quantitative", "scale": {"domain": [0, 2], "nice": false}, "axis": {"values": [0, 0.25, 0.5, 0.75, 1, 1.25, 1.5, 1.75, 2], "format": ".2f"}, "title": null}, "y2": {"field": "hi"}}},
  {"data": {"name": "rc"}, "mark": {"type": "line", "clip": true, "strokeWidth": 1.8, "opacity": 0.9},
   "encoding": {"y": {"field": "f", "type": "quantitative", "title": null}, "color": {"datum": "CTTS", "type": "nominal", "scale": {"domain": ["CTTS", "Lacc/L⁎ = 0.01", "WTTS"], "range": ["#8a2be2", "rgba(0,0,0,0)", "#ff6347"]}, "legend": {"title": null}}}},
  {"data": {"name": "rwa"}, "mark": {"type": "area", "clip": true, "color": "#ff6347", "opacity": 0.95},
   "encoding": {"y": {"field": "lo", "type": "quantitative", "title": null}, "y2": {"field": "hi"}}},
  {"data": {"name": "rw"}, "mark": {"type": "line", "clip": true, "strokeWidth": 1.8, "opacity": 0.9},
   "encoding": {"y": {"field": "f", "type": "quantitative", "title": null}, "color": {"datum": "WTTS", "type": "nominal"}}}
 ]
}
]
}
